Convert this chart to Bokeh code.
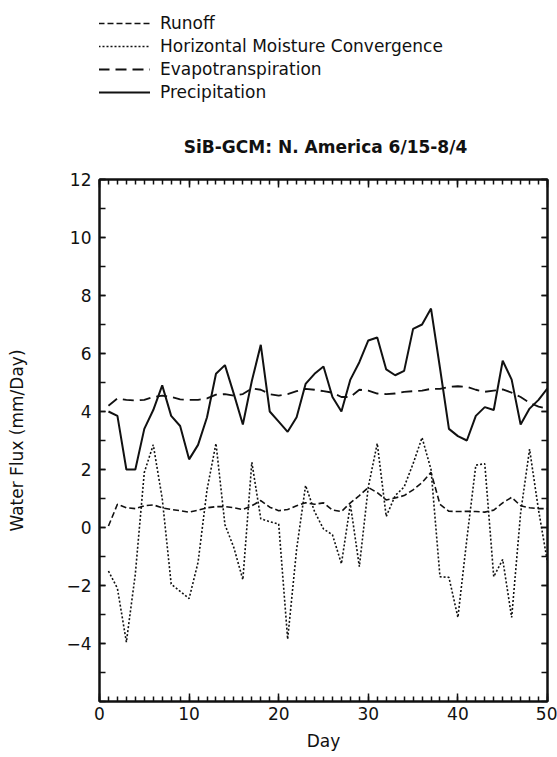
from bokeh.plotting import figure
from bokeh.layouts import column
from bokeh.models import (Range1d, LinearAxis, FixedTicker, Legend, LegendItem, Label)
from bokeh.embed import file_html
from bokeh.resources import INLINE

# ---- data ----
days = list(range(1, 51))

precipitation = [4.0, 3.85, 2.0, 2.0, 3.4, 4.05, 4.9, 3.85, 3.5, 2.35,
                 2.85, 3.8, 5.3, 5.6, 4.6, 3.55, 5.05, 6.3, 4.0, 3.65,
                 3.3, 3.8, 4.95, 5.3, 5.55, 4.5, 4.0, 5.1, 5.7, 6.45,
                 6.55, 5.45, 5.25, 5.4, 6.85, 7.0, 7.55, 5.5, 3.4, 3.15,
                 3.0, 3.85, 4.15, 4.05, 5.75, 5.1, 3.55, 4.1, 4.4, 4.8]

evapotranspiration = [4.2, 4.45, 4.4, 4.38, 4.4, 4.5, 4.55, 4.5, 4.42, 4.4,
                      4.4, 4.45, 4.58, 4.6, 4.55, 4.6, 4.8, 4.75, 4.6, 4.55,
                      4.6, 4.7, 4.78, 4.75, 4.7, 4.65, 4.5, 4.5, 4.75, 4.72,
                      4.62, 4.6, 4.62, 4.68, 4.7, 4.72, 4.78, 4.78, 4.85, 4.87,
                      4.85, 4.75, 4.68, 4.72, 4.76, 4.65, 4.5, 4.3, 4.17, 4.1]

runoff = [0.05, 0.8, 0.68, 0.65, 0.75, 0.78, 0.68, 0.62, 0.58, 0.53,
          0.6, 0.68, 0.72, 0.72, 0.68, 0.62, 0.75, 0.93, 0.7, 0.58,
          0.62, 0.75, 0.85, 0.8, 0.85, 0.6, 0.55, 0.85, 1.1, 1.38,
          1.2, 0.95, 1.02, 1.1, 1.3, 1.55, 1.9, 0.8, 0.56, 0.55,
          0.56, 0.55, 0.53, 0.6, 0.85, 1.04, 0.75, 0.68, 0.65, 0.65]

moisture_convergence = [-1.5, -2.1, -3.95, -1.6, 1.9, 2.85, 1.0, -1.95, -2.2, -2.45,
                        -1.2, 1.3, 2.9, 0.1, -0.7, -1.8, 2.25, 0.3, 0.2, 0.12,
                        -3.85, -0.75, 1.45, 0.55, -0.05, -0.25, -1.25, 0.8, -1.35, 1.4,
                        2.9, 0.38, 1.1, 1.4, 2.2, 3.1, 2.0, -1.7, -1.72, -3.1,
                        -0.4, 2.15, 2.2, -1.7, -1.1, -3.1, 0.5, 2.7, 0.6, -1.2]

series_labels = ["Runoff", "Horizontal Moisture Convergence",
                 "Evapotranspiration", "Precipitation"]
title_text = "SiB-GCM: N. America 6/15-8/4"

y_major = [-4, -2, 0, 2, 4, 6, 8, 10, 12]
y_minor = list(range(-6, 13))
x_major = [0, 10, 20, 30, 40, 50]
x_minor = list(range(0, 51))

FONT = "DejaVu Sans"
INK = "#111111"

styles = [dict(line_width=1.6, line_dash="6 3"),
          dict(line_width=1.6, line_dash="2 2"),
          dict(line_width=1.8, line_dash="11 6"),
          dict(line_width=2.0, line_dash="solid")]
series = [runoff, moisture_convergence, evapotranspiration, precipitation]

FRAME_LEFT = 99
HEAD_H = 160

# ---------------- header figure: legend + title ----------------
# (its frame is aligned with the main chart's frame by the column layout)
head = figure(width=557, height=HEAD_H, output_backend="svg", toolbar_location=None,
              x_range=Range1d(1000, 1001), y_range=Range1d(1000, 1001),
              min_border_left=FRAME_LEFT, min_border_right=10,
              min_border_top=0, min_border_bottom=0,
              x_axis_type=None, y_axis_type=None)
head.grid.visible = False
head.outline_line_color = None
head.background_fill_color = "white"
head.border_fill_color = "white"

# legend sample renderers (same series, outside the header's view)
head_renderers = [head.line(days, vals, line_color=INK, **st)
                  for vals, st in zip(series, styles)]

legend = Legend(items=[LegendItem(label=lab, renderers=[r])
                       for lab, r in zip(series_labels, head_renderers)],
                location=(98 - FRAME_LEFT, HEAD_H - 102), orientation="vertical")
legend.glyph_width = 52
legend.glyph_height = 20
legend.label_height = 20
legend.label_standoff = 10
legend.spacing = 3
legend.padding = 0
legend.margin = 0
legend.border_line_color = None
legend.background_fill_alpha = 0
legend.label_text_font = FONT
legend.label_text_font_size = "17px"
legend.label_text_color = INK
legend.label_text_baseline = "middle"
head.add_layout(legend, "center")

title = Label(x=325 - FRAME_LEFT, y=HEAD_H - 146, x_units="screen", y_units="screen",
              text=title_text, text_font=FONT,
              text_font_size="17px", text_font_style="bold", text_color=INK,
              text_align="center", text_baseline="middle")
head.add_layout(title)

# ---------------- main chart ----------------
p = figure(width=557, height=757 - HEAD_H, output_backend="svg", toolbar_location=None,
           x_range=Range1d(0, 50), y_range=Range1d(-6, 12),
           min_border_left=FRAME_LEFT, min_border_right=10, min_border_top=179 - HEAD_H,
           min_border_bottom=56, x_axis_type=None, y_axis_type=None)
p.grid.visible = False
p.outline_line_color = INK
p.outline_line_width = 2
p.background_fill_color = "white"
p.border_fill_color = "white"


def style_axis(ax, ticks, minor, labels=True, major_len=6, minor_len=6):
    ax.ticker = FixedTicker(ticks=ticks, minor_ticks=minor)
    ax.axis_line_color = INK
    ax.axis_line_width = 2
    ax.major_tick_in = major_len
    ax.major_tick_out = 0
    ax.minor_tick_in = minor_len
    ax.minor_tick_out = 0
    ax.major_tick_line_color = INK
    ax.minor_tick_line_color = INK
    ax.major_tick_line_width = 1.5
    ax.minor_tick_line_width = 1.5
    if labels:
        ax.major_label_text_font = FONT
        ax.major_label_text_font_size = "17px"
        ax.major_label_text_color = INK
    else:
        ax.major_label_text_font_size = "0px"
        ax.major_label_text_alpha = 0


left = LinearAxis()
style_axis(left, y_major, y_minor)
left.major_label_standoff = 8
left.axis_label = "Water Flux (mm/Day)"
left.axis_label_text_font = FONT
left.axis_label_text_font_size = "17px"
left.axis_label_text_font_style = "normal"
left.axis_label_text_color = INK
left.axis_label_standoff = 36
p.add_layout(left, "left")

bottom = LinearAxis()
style_axis(bottom, x_major, x_minor, major_len=8, minor_len=5)
bottom.major_label_standoff = 5
bottom.axis_label = "Day"
bottom.axis_label_text_font = FONT
bottom.axis_label_text_font_size = "17px"
bottom.axis_label_text_font_style = "normal"
bottom.axis_label_text_color = INK
bottom.axis_label_standoff = 8
p.add_layout(bottom, "below")

top = LinearAxis()
style_axis(top, x_major, x_minor, labels=False, major_len=8, minor_len=5)
p.add_layout(top, "above")

right = LinearAxis()
style_axis(right, y_major, y_minor, labels=False)
p.add_layout(right, "right")

for vals, st in zip(series, styles):
    p.line(days, vals, line_color=INK, **st)

layout = column(head, p, spacing=0)
open("out.html", "w").write(file_html(layout, INLINE))
